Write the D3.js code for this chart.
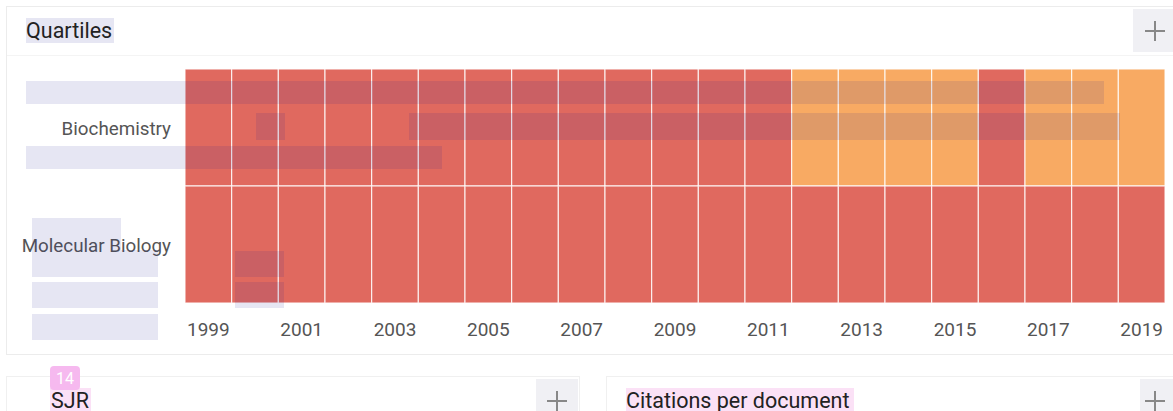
<!DOCTYPE html>
<html><head><meta charset="utf-8">
<script src="https://cdn.jsdelivr.net/npm/d3@7"></script>
<style>
body{margin:0;background:#fff;font-family:Roboto,"Noto Sans",sans-serif;}
svg{display:block;}
</style></head>
<body><svg id="c" width="1173" height="411"></svg>
<script>
const years = d3.range(1999, 2020);
const categories = ["Biochemistry", "Molecular Biology"];
const quartilesBiochemistry = ["Q1","Q1","Q1","Q1","Q1","Q1","Q1","Q1","Q1","Q1","Q1","Q1","Q1","Q2","Q2","Q2","Q2","Q1","Q2","Q2","Q2"];
const quartilesMolecularBiology = ["Q1","Q1","Q1","Q1","Q1","Q1","Q1","Q1","Q1","Q1","Q1","Q1","Q1","Q1","Q1","Q1","Q1","Q1","Q1","Q1","Q1"];
const tickYears = [1999,2001,2003,2005,2007,2009,2011,2013,2015,2017,2019];
const quartileColors = {Q1:"#e0695f", Q2:"#f8aa63", Q3:"#f9d97a", Q4:"#b9cf6a"};

const svg = d3.select("#c");

// card
svg.append("rect").attr("x",6.5).attr("y",6.5).attr("width",1180).attr("height",348)
  .attr("fill","#fff").attr("stroke","#ececec");
svg.append("line").attr("x1",7).attr("x2",1173).attr("y1",55.5).attr("y2",55.5).attr("stroke","#f4f4f4");
svg.append("rect").attr("x",1133).attr("y",9).attr("width",42).attr("height",43).attr("fill","#f0f0f4");
function plus(g,cx,cy){
  g.append("path").attr("d",`M${cx-10},${cy}H${cx+10}M${cx},${cy-10}V${cy+10}`).attr("stroke","#888").attr("stroke-width",2);
}
plus(svg,1155,31);
svg.append("text").attr("x",26).attr("y",38).attr("font-size",21.5).attr("fill","#222").text("Quartiles");

const x = d3.scaleBand().domain(years).range([185,1165]).padding(0);
const y = d3.scaleBand().domain(categories).range([69,303]).padding(0);

const rows = [
  {cat:"Biochemistry", q:quartilesBiochemistry},
  {cat:"Molecular Biology", q:quartilesMolecularBiology}
];
const cells = rows.flatMap(r => years.map((yr,i)=>({cat:r.cat, year:yr, q:r.q[i]})));
svg.append("g").selectAll("rect").data(cells).join("rect")
  .attr("x",d=>x(d.year)).attr("y",d=>y(d.cat))
  .attr("width",x.bandwidth()).attr("height",y.bandwidth())
  .attr("fill",d=>quartileColors[d.q])
  .attr("stroke","rgba(255,255,255,0.8)").attr("stroke-width",1.2);

const xAxis = svg.append("g").attr("transform","translate(0,303)")
  .call(d3.axisBottom(x).tickValues(tickYears).tickSize(0).tickPadding(20));
xAxis.select(".domain").remove();
xAxis.selectAll("text").attr("font-size",19).attr("fill","#555").attr("font-family","Roboto");

const yAxis = svg.append("g").attr("transform","translate(185,0)")
  .call(d3.axisLeft(y).tickSize(0).tickPadding(14));
yAxis.select(".domain").remove();
yAxis.selectAll("text").attr("font-size",18.8).attr("fill","#555").attr("font-family","Roboto").attr("dy","0.4em");

// translucent annotation overlays
const overlayColor = "rgba(30,30,150,0.11)";
svg.insert("rect","text").attr("x",26).attr("y",18).attr("width",88).attr("height",25).attr("fill",overlayColor);
const overlays = [[26,81,1078,23],[256,113,29,27],[409,113,711,27],[26,146,416,23],
  [32,218,89,32],[32,250,126,27],[32,282,126,26],[32,314,126,26],[235,251,49,26],[235,282,49,26]];
svg.append("g").selectAll("rect").data(overlays).join("rect")
  .attr("x",d=>d[0]).attr("y",d=>d[1]).attr("width",d=>d[2]).attr("height",d=>d[3]).attr("fill",overlayColor);

// lower cards
svg.append("rect").attr("x",6.5).attr("y",376.5).attr("width",573).attr("height",60).attr("fill","#fff").attr("stroke","#f0f0f0");
svg.append("rect").attr("x",606.5).attr("y",376.5).attr("width",580).attr("height",60).attr("fill","#fff").attr("stroke","#f0f0f0");
svg.append("rect").attr("x",536).attr("y",379).attr("width",42).attr("height",40).attr("fill","#f0f0f4");
plus(svg,557,401);
svg.append("rect").attr("x",1140).attr("y",379).attr("width",40).attr("height",40).attr("fill","#f0f0f4");
plus(svg,1155,401);
svg.append("rect").attr("x",50).attr("y",388).attr("width",41).attr("height",24).attr("fill","#fbe1f6");
svg.append("text").attr("x",51).attr("y",408).attr("font-size",21.5).attr("fill","#222").text("SJR");
svg.append("rect").attr("x",50).attr("y",366).attr("width",30).attr("height",24).attr("rx",4).attr("fill","#f6b9ef");
svg.append("text").attr("x",65).attr("y",384).attr("text-anchor","middle").attr("font-size",16).attr("fill","#fff").text("14");
svg.append("rect").attr("x",626).attr("y",388).attr("width",228).attr("height",24).attr("fill","#fbe1f6");
svg.append("text").attr("x",626).attr("y",408).attr("font-size",21.5).attr("fill","#222").text("Citations per document");
</script></body></html>
